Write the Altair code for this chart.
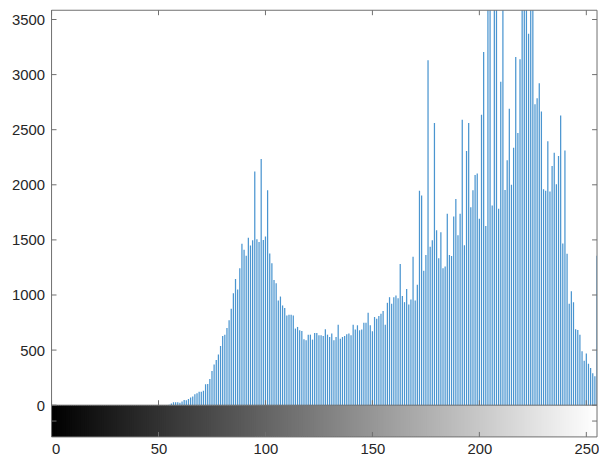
import altair as alt
import pandas as pd

# ---- data (image histogram, 256 gray levels) ----
levels = list(range(256))
counts = (
    [0] * 55
    + [5]
    + [15, 27, 27, 27]
    + [21, 33, 48, 45, 57, 69, 78, 99, 108, 123]
    + [123, 132, 189, 192, 238, 310, 370, 409, 460, 538]
    + [628, 640, 700, 770, 875, 1016, 1146, 1049, 1242, 1465]
    + [1410, 1355, 1520, 1450, 1497, 2120, 1506, 1482, 2235, 1500]
    + [1530, 1950, 1377, 1287, 1137, 1106, 950, 986, 905, 881]
    + [815, 821, 821, 815, 695, 710, 680, 673, 598, 589]
    + [640, 640, 595, 655, 655, 634, 634, 628, 689, 640]
    + [619, 650, 589, 619, 731, 604, 619, 628, 643, 650]
    + [634, 731, 686, 725, 680, 686, 749, 749, 839, 725]
    + [671, 800, 785, 809, 830, 854, 731, 929, 980, 920]
    + [980, 995, 971, 1281, 990, 935, 1054, 913, 958, 1348]
    + [949, 1093, 1947, 1902, 1221, 1363, 3130, 1437, 1497, 2561]
    + [1587, 1333, 1569, 1243, 1258, 1737, 1363, 1354, 1713, 1872]
    + [1542, 1737, 2591, 1452, 2306, 2561, 1797, 1950, 2090, 2103]
    + [1692, 2636, 3205, 1626, 4100, 3800, 1812, 3900, 4300, 1782]
    + [2936, 3700, 1953, 2222, 2690, 2000, 2336, 3160, 2471, 3139]
    + [4500, 3900, 4800, 3370, 4400, 3800, 2732, 2786, 2921, 2666]
    + [1960, 1945, 2396, 1939, 2171, 2291, 2006, 2261, 2630, 1467]
    + [2312, 1375, 920, 1035, 935, 690, 683, 640, 490, 403]
    + [470, 375, 338, 290, 262, 1355]
)
x_ticks = [0, 50, 100, 150, 200, 250]
y_ticks = [0, 500, 1000, 1500, 2000, 2500, 3000, 3500]

# ---- layout constants ----
X_MAX = 255
Y_MAX = 3584
Y_MIN = -288          # grayscale strip below the histogram
BAR_MID = Y_MIN / 2
W, H = 551, 431
TX = 5 * X_MAX / W                 # 5 px in x units
TY = 5 * (Y_MAX - Y_MIN) / H       # 5 px in y units
FONT = "Liberation Sans"
TXT = "#262626"
FRAME = "#6e6e6e"

xs = alt.Scale(domain=[0, X_MAX], nice=False, zero=False)
ys = alt.Scale(domain=[Y_MIN, Y_MAX], nice=False, zero=False)
x_axis = alt.Axis(values=x_ticks, format="d", ticks=False, tickSize=0, domain=False,
                  grid=False, labelFont=FONT, labelFontSize=15, labelColor=TXT,
                  labelPadding=5, title=None)
y_axis = alt.Axis(values=y_ticks, format="d", ticks=False, tickSize=0, domain=False,
                  grid=False, labelFont=FONT, labelFontSize=15, labelColor=TXT,
                  labelPadding=7, title=None)

hist = pd.DataFrame({"level": levels, "count": counts})
strip = pd.DataFrame({"level": levels,
                      "lo": [l - 0.5 for l in levels],
                      "hi": [l + 1.0 for l in levels]})

# frame lines and inward ticks (built from the tick lists / domain)
segs = []
segs += [(0, X_MAX, Y_MAX, Y_MAX), (0, X_MAX, 0, 0), (0, X_MAX, Y_MIN, Y_MIN),
         (0, 0, Y_MIN, Y_MAX), (X_MAX, X_MAX, Y_MIN, Y_MAX)]
for t in x_ticks:
    segs += [(t, t, 0, TY), (t, t, Y_MAX - TY, Y_MAX), (t, t, Y_MIN, Y_MIN + TY)]
for t in y_ticks:
    segs += [(0, TX, t, t), (X_MAX - TX, X_MAX, t, t)]
segs += [(0, TX, BAR_MID, BAR_MID), (X_MAX - TX, X_MAX, BAR_MID, BAR_MID)]
lines = pd.DataFrame(segs, columns=["x", "x2", "y", "y2"])

strip_layer = alt.Chart(strip).mark_rect(clip=True).encode(
    x=alt.X("lo:Q", scale=xs, axis=x_axis),
    x2="hi:Q",
    y=alt.Y("y0:Q", scale=ys, axis=y_axis),
    y2="y1:Q",
    color=alt.Color("level:Q", legend=None,
                    scale=alt.Scale(domain=[0, 255], range=["#000000", "#ffffff"],
                                    interpolate="rgb")),
).transform_calculate(y0=str(Y_MIN), y1="0")

stems = alt.Chart(hist).mark_rule(clip=True, color="#4a95d0", strokeWidth=1.25).encode(
    x=alt.X("level:Q", scale=xs, axis=x_axis),
    y=alt.Y("count:Q", scale=ys, axis=y_axis),
    y2=alt.datum(0),
)

frame = alt.Chart(lines).mark_rule(color=FRAME, strokeWidth=1).encode(
    x=alt.X("x:Q", scale=xs, axis=x_axis),
    x2="x2:Q",
    y=alt.Y("y:Q", scale=ys, axis=y_axis),
    y2="y2:Q",
)

chart = alt.layer(strip_layer, stems, frame).properties(
    width=W, height=H,
    padding={"left": 44, "top": 0, "right": 2, "bottom": 17},
    autosize=alt.AutoSizeParams(type="none"),
    background="white",
).configure_view(stroke=None)

chart.save("out.html", embed_options={"renderer": "svg", "actions": False})
